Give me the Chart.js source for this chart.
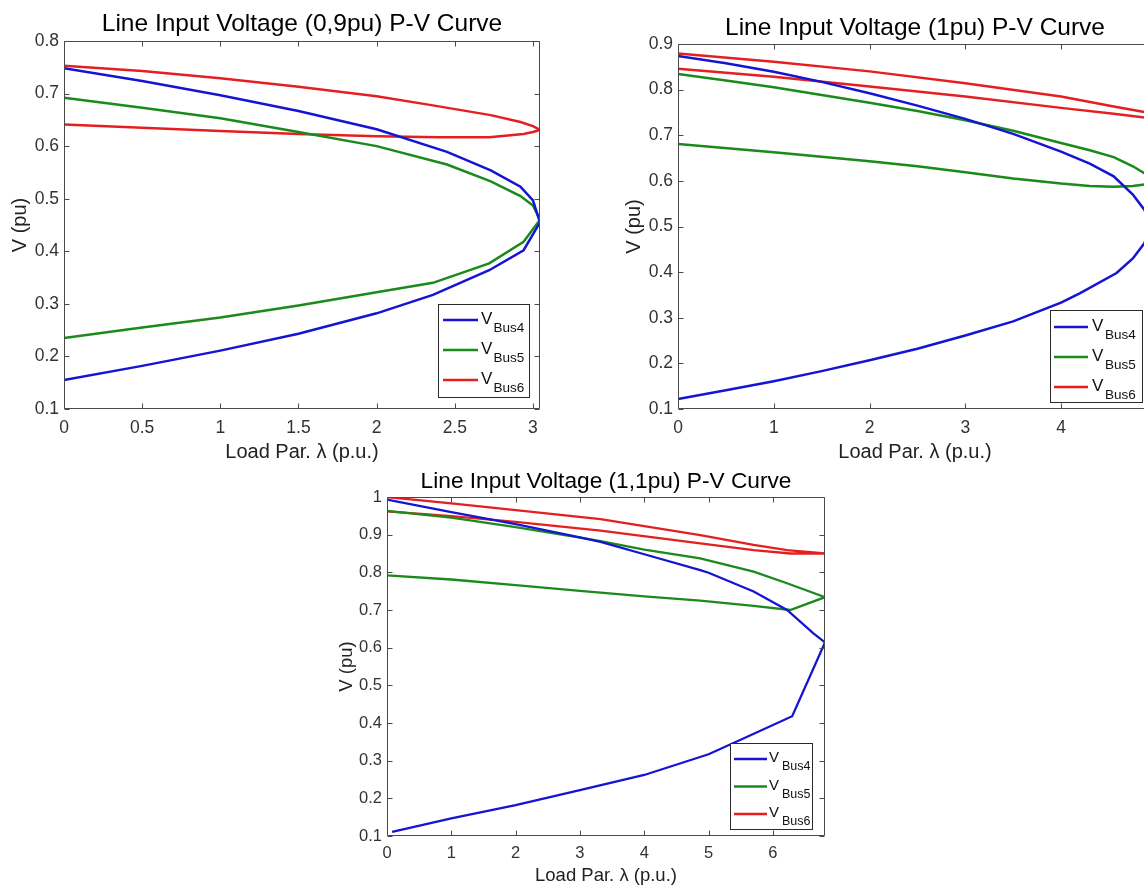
<!DOCTYPE html>
<html><head><meta charset="utf-8">
<script src="https://cdn.jsdelivr.net/npm/chart.js@4.4.1/dist/chart.umd.min.js"></script>
<style>
html,body{margin:0;padding:0;background:#fff;overflow:hidden;width:1144px;height:885px;position:relative;}
canvas{position:absolute;display:block;}
</style></head><body>
<canvas id="cA" width="575" height="470" style="left:0;top:0"></canvas>
<canvas id="cB" width="600" height="470" style="left:600px;top:0"></canvas>
<canvas id="cC" width="520" height="440" style="left:330px;top:460px"></canvas>
<script>
// ---------- DATA ----------
const seriesNames = ['Bus4', 'Bus5', 'Bus6'];
const titles = ['Line Input Voltage (0,9pu) P-V Curve', 'Line Input Voltage (1pu) P-V Curve', 'Line Input Voltage (1,1pu) P-V Curve'];
const xLabel = 'Load Par. \u03bb (p.u.)';
const yLabel = 'V (pu)';

const xTicksA = [0, 0.5, 1, 1.5, 2, 2.5, 3];
const yTicksA = [0.1, 0.2, 0.3, 0.4, 0.5, 0.6, 0.7, 0.8];
const xTicksB = [0, 1, 2, 3, 4, 5];
const yTicksB = [0.1, 0.2, 0.3, 0.4, 0.5, 0.6, 0.7, 0.8, 0.9];
const xTicksC = [0, 1, 2, 3, 4, 5, 6];
const yTicksC = [0.1, 0.2, 0.3, 0.4, 0.5, 0.6, 0.7, 0.8, 0.9, 1];

// [lambda, V] pairs, upper branch then lower branch
const bus4A = [[0,0.748],[0.5,0.724],[1,0.697],[1.5,0.667],[2,0.632],[2.45,0.589],[2.73,0.554],[2.92,0.523],[3.0,0.497],[3.045,0.455],
               [2.94,0.402],[2.72,0.364],[2.36,0.317],[2.0,0.282],[1.5,0.243],[1.0,0.211],[0.5,0.182],[0,0.155]];
const bus5A = [[0,0.692],[0.5,0.673],[1,0.653],[1.5,0.627],[2,0.6],[2.45,0.565],[2.73,0.533],[2.92,0.505],[3.0,0.487],[3.045,0.46],
               [2.94,0.418],[2.72,0.377],[2.36,0.34],[2.0,0.322],[1.5,0.297],[1.0,0.274],[0.5,0.255],[0,0.235]];
const bus6A = [[0,0.753],[0.5,0.743],[1,0.729],[1.5,0.713],[2,0.695],[2.35,0.678],[2.73,0.659],[2.92,0.646],[3.0,0.638],[3.045,0.631],
               [3.0,0.627],[2.94,0.623],[2.72,0.617],[2.4,0.617],[2.0,0.619],[1.5,0.623],[1.0,0.629],[0.5,0.635],[0,0.641]];

const bus4B = [[0,0.874],[0.5,0.858],[1,0.839],[1.5,0.817],[2,0.792],[2.5,0.765],[3,0.736],[3.5,0.703],[4,0.664],[4.3,0.638],[4.55,0.610],[4.75,0.57],[4.87,0.537],[4.95,0.5],
               [4.87,0.463],[4.75,0.43],[4.58,0.398],[4.2,0.354],[4,0.333],[3.5,0.292],[3,0.261],[2.5,0.232],[2,0.207],[1.5,0.183],[1,0.161],[0.5,0.141],[0,0.122]];
const bus5B = [[0,0.834],[0.5,0.82],[1,0.805],[1.5,0.788],[2,0.771],[2.5,0.753],[3,0.733],[3.5,0.710],[4,0.683],[4.3,0.667],[4.55,0.652],[4.75,0.632],[4.87,0.617],[4.95,0.60],
               [4.87,0.592],[4.75,0.589],[4.55,0.587],[4.3,0.589],[4,0.594],[3.5,0.605],[3,0.619],[2.5,0.632],[2,0.643],[1,0.663],[0,0.681]];
const bus6B = [[0,0.879],[1,0.861],[2,0.840],[3,0.814],[4,0.785],[4.55,0.763],[4.87,0.751],[4.95,0.746],
               [4.87,0.739],[4.55,0.747],[4,0.760],[3,0.785],[2,0.807],[1,0.828],[0,0.846]];

const bus4C = [[0,0.993],[1,0.96],[2,0.928],[3,0.893],[3.32,0.881],[4,0.848],[4.87,0.806],[5,0.799],[5.7,0.749],[6.22,0.70],[6.63,0.638],[6.81,0.614],
               [6.30,0.418],[5.49,0.355],[5,0.317],[4,0.262],[3,0.222],[2,0.182],[1,0.147],[0.08,0.111]];
const bus5C = [[0,0.963],[1,0.945],[2,0.92],[3,0.892],[3.32,0.883],[4,0.86],[4.87,0.837],[5.7,0.802],[6.22,0.771],[6.81,0.734],
               [6.27,0.70],[5.7,0.711],[4.87,0.725],[4,0.736],[3.32,0.746],[3,0.751],[2,0.766],[1,0.781],[0,0.792]];
const bus6C = [[0,1.0],[1,0.983],[2,0.965],[3.32,0.941],[4.87,0.899],[5.7,0.873],[6.22,0.859],[6.81,0.85],
               [6.27,0.85],[5.7,0.859],[4.87,0.877],[3.32,0.911],[2,0.934],[1,0.949],[0,0.962]];

// ---------- STYLE ----------
const FONT = '"Liberation Sans", Arial, Helvetica, sans-serif';
const COLORS = ['#1414d2', '#1a8a1a', '#e51f1f'];

const framePlugin = {
  id: 'frame',
  afterDraw(chart, args, o) {
    const {ctx, chartArea: a, scales: {x, y}} = chart;
    ctx.save();
    ctx.strokeStyle = '#4a4a4a';
    ctx.lineWidth = 1;
    const L = Math.round(a.left) + 0.5, T = Math.round(a.top) + 0.5, R = Math.round(a.right) - 0.5, B = Math.round(a.bottom) - 0.5;
    ctx.beginPath();
    ctx.moveTo(L, T); ctx.lineTo(R, T); ctx.lineTo(R, B); ctx.lineTo(L, B); ctx.closePath();
    x.ticks.forEach(t => {
      const px = Math.round(x.getPixelForValue(t.value)) + 0.5;
      if (px < a.left - 1 || px > a.right + 1) return;
      ctx.moveTo(px, B); ctx.lineTo(px, B - 5);
      ctx.moveTo(px, T); ctx.lineTo(px, T + 5);
    });
    y.ticks.forEach(t => {
      const py = Math.round(y.getPixelForValue(t.value)) + 0.5;
      ctx.moveTo(L, py); ctx.lineTo(L + 5, py);
      ctx.moveTo(R, py); ctx.lineTo(R - 5, py);
    });
    ctx.stroke();
    ctx.fillStyle = '#000';
    ctx.font = o.titleSize + 'px ' + FONT;
    ctx.textAlign = 'center';
    ctx.textBaseline = 'alphabetic';
    ctx.fillText(o.title, (a.left + a.right) / 2, a.top - o.titleGap);
    const g = o.legend;
    const bx = Math.round(a.right - g.r - g.w), by = Math.round(a.bottom - g.b - g.h);
    ctx.fillStyle = '#fff';
    ctx.fillRect(bx, by, g.w, g.h);
    ctx.strokeStyle = '#2a2a2a';
    ctx.lineWidth = 1;
    ctx.strokeRect(bx + 0.5, by + 0.5, g.w, g.h);
    chart.data.datasets.forEach((ds, i) => {
      const ry = by + g.row0 + i * g.step;
      ctx.strokeStyle = ds.borderColor;
      ctx.lineWidth = ds.borderWidth;
      ctx.beginPath();
      ctx.moveTo(bx + g.l0, ry); ctx.lineTo(bx + g.l1, ry);
      ctx.stroke();
      ctx.fillStyle = '#111';
      ctx.textAlign = 'left';
      ctx.textBaseline = 'alphabetic';
      ctx.font = g.vf + 'px ' + FONT;
      ctx.fillText('V', bx + g.vx, ry + g.vb);
      ctx.font = g.sf + 'px ' + FONT;
      ctx.fillText(ds.label, bx + g.sx, ry + g.sb);
    });
    ctx.restore();
  }
};

function makeChart(id, cfg) {
  const datasets = cfg.series.map((s, i) => ({
    label: seriesNames[i],
    data: s.map(([lx, v]) => ({x: lx, y: v})),
    borderColor: COLORS[i],
    backgroundColor: COLORS[i],
    borderWidth: cfg.lw,
    pointRadius: 0,
    showLine: true,
    tension: 0,
    fill: false
  }));
  new Chart(document.getElementById(id), {
    type: 'scatter',
    data: {datasets},
    plugins: [framePlugin],
    options: {
      responsive: false,
      animation: false,
      events: [],
      layout: {padding: {top: cfg.padTop, right: cfg.padRight, left: 0, bottom: 0}},
      plugins: {
        legend: {display: false},
        title: {display: false},
        tooltip: {enabled: false},
        frame: {title: cfg.title, titleSize: cfg.titleSize, titleGap: cfg.titleGap, legend: cfg.legend}
      },
      scales: {
        x: {
          type: 'linear', min: 0, max: cfg.xMax,
          grid: {display: false, drawTicks: false}, border: {display: false},
          afterBuildTicks: s => { s.ticks = cfg.xTicks.map(v => ({value: v})); },
          afterFit: s => { s.height = cfg.xH; },
          ticks: {color: '#333', font: {family: FONT, size: cfg.tickSize}, padding: cfg.xTickPad, maxRotation: 0, autoSkip: false, callback: v => String(v)},
          title: {display: true, text: xLabel, color: '#222', font: {family: FONT, size: cfg.labSize}, padding: {top: 0, bottom: cfg.xTitlePad}}
        },
        y: {
          type: 'linear', min: 0.1, max: cfg.yMax,
          grid: {display: false, drawTicks: false}, border: {display: false},
          afterBuildTicks: s => { s.ticks = cfg.yTicks.map(v => ({value: v})); },
          afterFit: s => { s.width = cfg.yW; },
          ticks: {color: '#333', font: {family: FONT, size: cfg.tickSize}, padding: 5, autoSkip: false, callback: v => String(v)},
          title: {display: true, text: yLabel, color: '#222', font: {family: FONT, size: cfg.labSize}, padding: {top: cfg.yTitlePad, bottom: 0}}
        }
      }
    }
  });
}

makeChart('cA', {
  series: [bus4A, bus5A, bus6A], title: titles[0], xTicks: xTicksA, yTicks: yTicksA, xMax: 3.045, yMax: 0.8,
  padTop: 41, padRight: 35, yW: 64, xH: 61, lw: 2.5, titleSize: 24.5, titleGap: 10, tickSize: 17.5, labSize: 20,
  xTickPad: 9, xTitlePad: 6, yTitlePad: 8,
  legend: {w: 91, h: 93, r: 11, b: 12, row0: 16, step: 30, l0: 5, l1: 40, vx: 43, vb: 3.5, sx: 55.5, sb: 11.7, vf: 17, sf: 13.5}
});
makeChart('cB', {
  series: [bus4B, bus5B, bus6B], title: titles[1], xTicks: xTicksB, yTicks: yTicksB, xMax: 4.95, yMax: 0.9,
  padTop: 44, padRight: 48, yW: 78, xH: 61, lw: 2.5, titleSize: 24.5, titleGap: 9, tickSize: 17.5, labSize: 20,
  xTickPad: 9, xTitlePad: 6, yTitlePad: 22,
  legend: {w: 92, h: 92, r: 10, b: 7, row0: 17, step: 30, l0: 4, l1: 38, vx: 42, vb: 3.5, sx: 55, sb: 11.7, vf: 17, sf: 13.5}
});
makeChart('cC', {
  series: [bus4C, bus5C, bus6C], title: titles[2], xTicks: xTicksC, yTicks: yTicksC, xMax: 6.81, yMax: 1,
  padTop: 37, padRight: 25, yW: 57, xH: 64, lw: 2.3, titleSize: 22.7, titleGap: 9, tickSize: 16.5, labSize: 18.5,
  xTickPad: 7.5, xTitlePad: 13.4, yTitlePad: 5.4,
  legend: {w: 82, h: 86, r: 13, b: 7, row0: 16, step: 27.5, l0: 4, l1: 37, vx: 39, vb: 3, sx: 52, sb: 11, vf: 15, sf: 12.5}
});
</script>
</body></html>
